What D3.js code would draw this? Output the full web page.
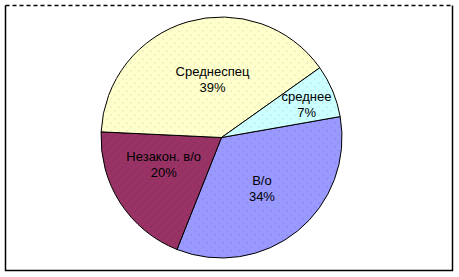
<!DOCTYPE html>
<html lang="ru">

<head>
  <meta charset="UTF-8">
  <title>Образование</title>
  <style>
    body { margin: 0; background: #fff; }
    svg { display: block; }
  </style>
</head>

<body>

  <script src="https://cdn.jsdelivr.net/npm/d3@7/dist/d3.min.js"></script>
  <script>
    var width = 459;
    var height = 277;

    // данные
    var categories = ["В/о", "Незакон. в/о", "Среднеспец", "среднее"];
    var values = [24, 14, 28, 5];
    var colors = ["#9999FF", "#993366", "#FFFFCC", "#CCFFFF"];

    // подгонка подписей (как у Excel)
    var labelRadius = [64, 64, 64, 90];
    var labelNudge = [[0, 1], [-4, -8], [9, 3], [2, 2]];

    var cx = 221.5, cy = 137.5, R = 120.5;
    var startDeg = 80;

    var svg = d3.select("body")
      .append("svg")
      .attr("width", width)
      .attr("height", height);

    // рамка
    svg.append("path")
      .attr("d", "M5.5,5.5 V270.5 H452.5 V5.5")
      .style("fill", "none")
      .style("stroke", "#000")
      .style("stroke-width", 1.5);
    svg.append("line")
      .attr("x1", 5.5).attr("x2", 452.5)
      .attr("y1", 5.5).attr("y2", 5.5)
      .style("stroke", "#000")
      .style("stroke-width", 1.5)
      .style("stroke-dasharray", "4,3");

    // точечная заливка
    var defs = svg.append("defs");
    colors.forEach(function (c, i) {
      var p = defs.append("pattern")
        .attr("id", "pat" + i)
        .attr("patternUnits", "userSpaceOnUse")
        .attr("width", 8)
        .attr("height", 8);
      p.append("rect").attr("width", 8).attr("height", 8).style("fill", c);
      var dot = d3.color(c).darker(0.7).formatHex();
      p.append("rect").attr("x", 1).attr("y", 1).attr("width", 1).attr("height", 1).style("fill", dot);
      p.append("rect").attr("x", 5).attr("y", 5).attr("width", 1).attr("height", 1).style("fill", dot);
    });

    var total = d3.sum(values);
    var pie = d3.pie()
      .sort(null)
      .value(function (d) { return d; })
      .startAngle(startDeg * Math.PI / 180)
      .endAngle(startDeg * Math.PI / 180 + 2 * Math.PI);

    var arcs = pie(values);
    var arc = d3.arc().innerRadius(0).outerRadius(R);

    var g = svg.append("g").attr("transform", "translate(" + cx + "," + cy + ")");

    g.selectAll("path")
      .data(arcs)
      .enter()
      .append("path")
      .attr("d", arc)
      .style("fill", function (d, i) { return "url(#pat" + i + ")"; })
      .style("stroke", "#000")
      .style("stroke-width", 1);

    var labels = g.selectAll("text")
      .data(arcs)
      .enter()
      .append("text")
      .attr("transform", function (d, i) {
        var c = d3.arc().innerRadius(labelRadius[i]).outerRadius(labelRadius[i]).centroid(d);
        return "translate(" + (c[0] + labelNudge[i][0]) + "," + (c[1] + labelNudge[i][1]) + ")";
      })
      .style("font-family", "'Liberation Sans', Arial, sans-serif")
      .style("font-size", "13px")
      .style("fill", "#000")
      .attr("text-anchor", "middle");

    labels.append("tspan")
      .attr("x", 0)
      .attr("y", -3.4)
      .text(function (d, i) { return categories[i]; });
    labels.append("tspan")
      .attr("x", 0)
      .attr("y", 12.6)
      .text(function (d) { return Math.round(d.value / total * 100) + "%"; });
  </script>
</body>

</html>
